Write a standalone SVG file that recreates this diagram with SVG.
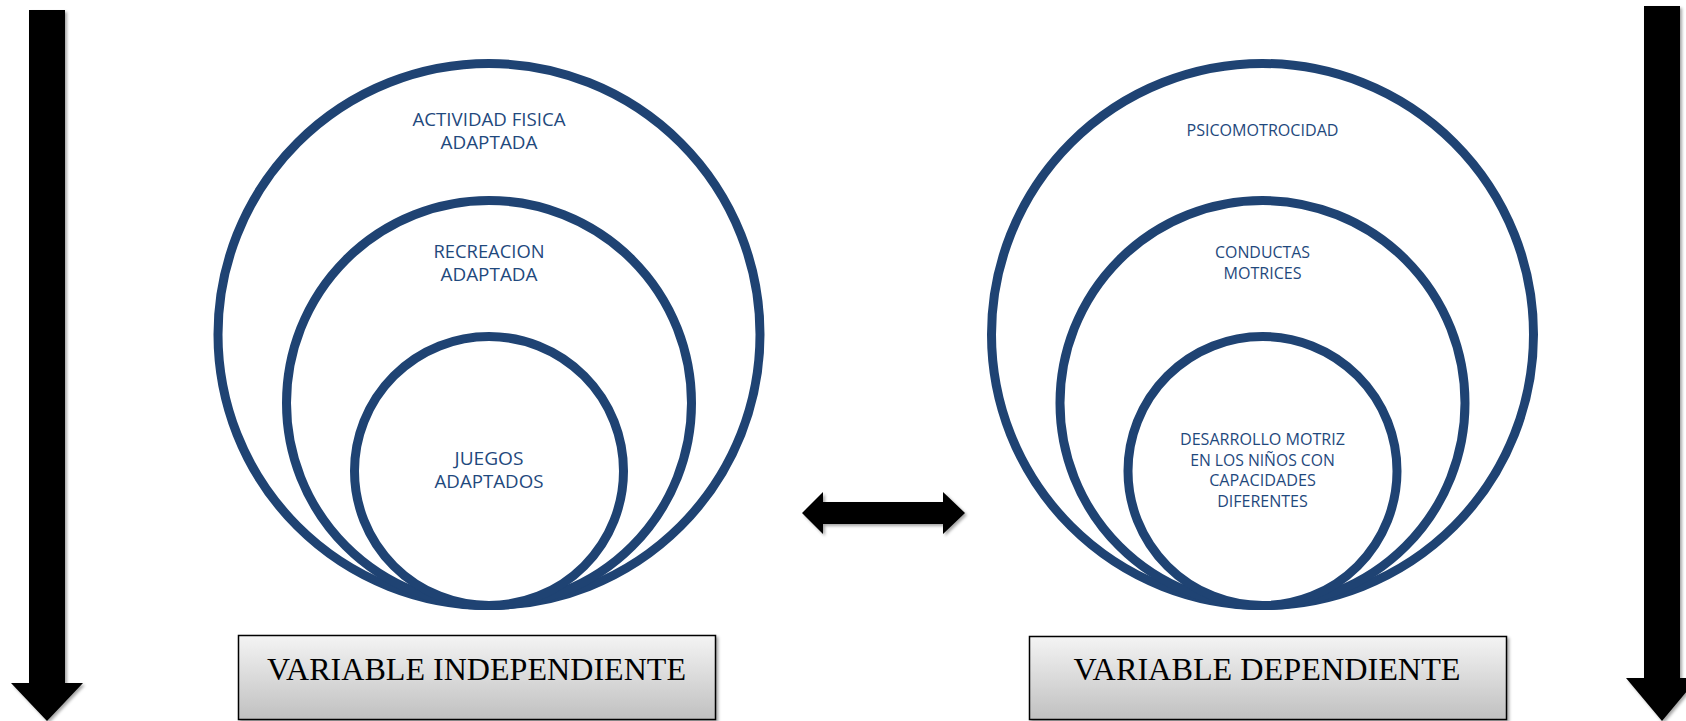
<svg xmlns="http://www.w3.org/2000/svg" width="1686" height="721" viewBox="0 0 1686 721">
  <style>
    .ring { fill: #ffffff; stroke: #1F4373; stroke-width: 9; }
    .lbl { font-family: "Open Sans", "Liberation Sans", sans-serif; fill: #1F497D; text-anchor: middle; }
    .big { font-size: 19px; }
    .small { font-size: 16.7px; }
    .box { stroke: #000000; stroke-width: 1.5; fill: url(#boxGrad); filter: url(#shadow); }
    .boxtxt { font-family: "Liberation Serif", "Times New Roman", serif; font-size: 32px; fill: #000000; text-anchor: middle; }
    .blk { fill: #000000; filter: url(#shadow); }
  </style>
  <defs>
    <linearGradient id="boxGrad" x1="0" y1="0" x2="0" y2="1">
      <stop offset="0" stop-color="#f4f4f4"/>
      <stop offset="1" stop-color="#c0c0c0"/>
    </linearGradient>
    <filter id="shadow" x="-20%" y="-20%" width="140%" height="140%">
      <feDropShadow dx="2" dy="2" stdDeviation="1.5" flood-color="#000000" flood-opacity="0.35"/>
    </filter>
  </defs>
  <rect x="0" y="0" width="1686" height="721" fill="#ffffff"/>

  <g id="connectors">
    <polygon class="blk" points="29,10 65,10 65,683 83,683 47,721 11,683 29,683"/>
    <polygon class="blk" points="1644,6 1680,6 1680,678 1698,678 1662,721 1626,678 1644,678"/>
    <polygon class="blk" points="802,513 823,492 823,502 943,502 943,492 965,513 943,534 943,524 823,524 823,534"/>
  </g>

  <g id="independiente-circles">
    <g id="actividad-fisica">
      <circle class="ring" cx="489" cy="334.5" r="271"/>
      <text class="lbl big" x="489" y="125.7" textLength="153" lengthAdjust="spacingAndGlyphs">ACTIVIDAD FISICA</text>
      <text class="lbl big" x="489" y="149.4" textLength="97" lengthAdjust="spacingAndGlyphs">ADAPTADA</text>
    </g>
    <g id="recreacion">
      <circle class="ring" cx="489" cy="403" r="202.5"/>
      <text class="lbl big" x="489" y="257.5" textLength="111" lengthAdjust="spacingAndGlyphs">RECREACION</text>
      <text class="lbl big" x="489" y="281.3" textLength="97" lengthAdjust="spacingAndGlyphs">ADAPTADA</text>
    </g>
    <g id="juegos">
      <circle class="ring" cx="489" cy="471" r="134.5"/>
      <text class="lbl big" x="489" y="465.3" textLength="69" lengthAdjust="spacingAndGlyphs">JUEGOS</text>
      <text class="lbl big" x="489" y="488.3" textLength="109" lengthAdjust="spacingAndGlyphs">ADAPTADOS</text>
    </g>
  </g>

  <g id="dependiente-circles">
    <g id="psicomotrocidad">
      <circle class="ring" cx="1262.5" cy="334.5" r="271"/>
      <text class="lbl small" x="1262.5" y="135.5" textLength="152" lengthAdjust="spacingAndGlyphs">PSICOMOTROCIDAD</text>
    </g>
    <g id="conductas">
      <circle class="ring" cx="1262.5" cy="403" r="202.5"/>
      <text class="lbl small" x="1262.5" y="257.7" textLength="95" lengthAdjust="spacingAndGlyphs">CONDUCTAS</text>
      <text class="lbl small" x="1262.5" y="278.7" textLength="78" lengthAdjust="spacingAndGlyphs">MOTRICES</text>
    </g>
    <g id="desarrollo">
      <circle class="ring" cx="1262.5" cy="471" r="134.5"/>
      <text class="lbl small" x="1262.5" y="445.4" textLength="165" lengthAdjust="spacingAndGlyphs">DESARROLLO MOTRIZ</text>
      <text class="lbl small" x="1262.5" y="466" textLength="144.6" lengthAdjust="spacingAndGlyphs">EN LOS NIÑOS CON</text>
      <text class="lbl small" x="1262.5" y="486.4" textLength="106.6" lengthAdjust="spacingAndGlyphs">CAPACIDADES</text>
      <text class="lbl small" x="1262.5" y="507" textLength="90.6" lengthAdjust="spacingAndGlyphs">DIFERENTES</text>
    </g>
  </g>

  <g id="box-independiente">
    <rect class="box" x="238.5" y="635.5" width="477" height="84"/>
    <text class="boxtxt" x="476.5" y="680" textLength="419" lengthAdjust="spacingAndGlyphs">VARIABLE INDEPENDIENTE</text>
  </g>
  <g id="box-dependiente">
    <rect class="box" x="1029.5" y="636.5" width="477" height="83"/>
    <text class="boxtxt" x="1267" y="680" textLength="387" lengthAdjust="spacingAndGlyphs">VARIABLE DEPENDIENTE</text>
  </g>
</svg>
